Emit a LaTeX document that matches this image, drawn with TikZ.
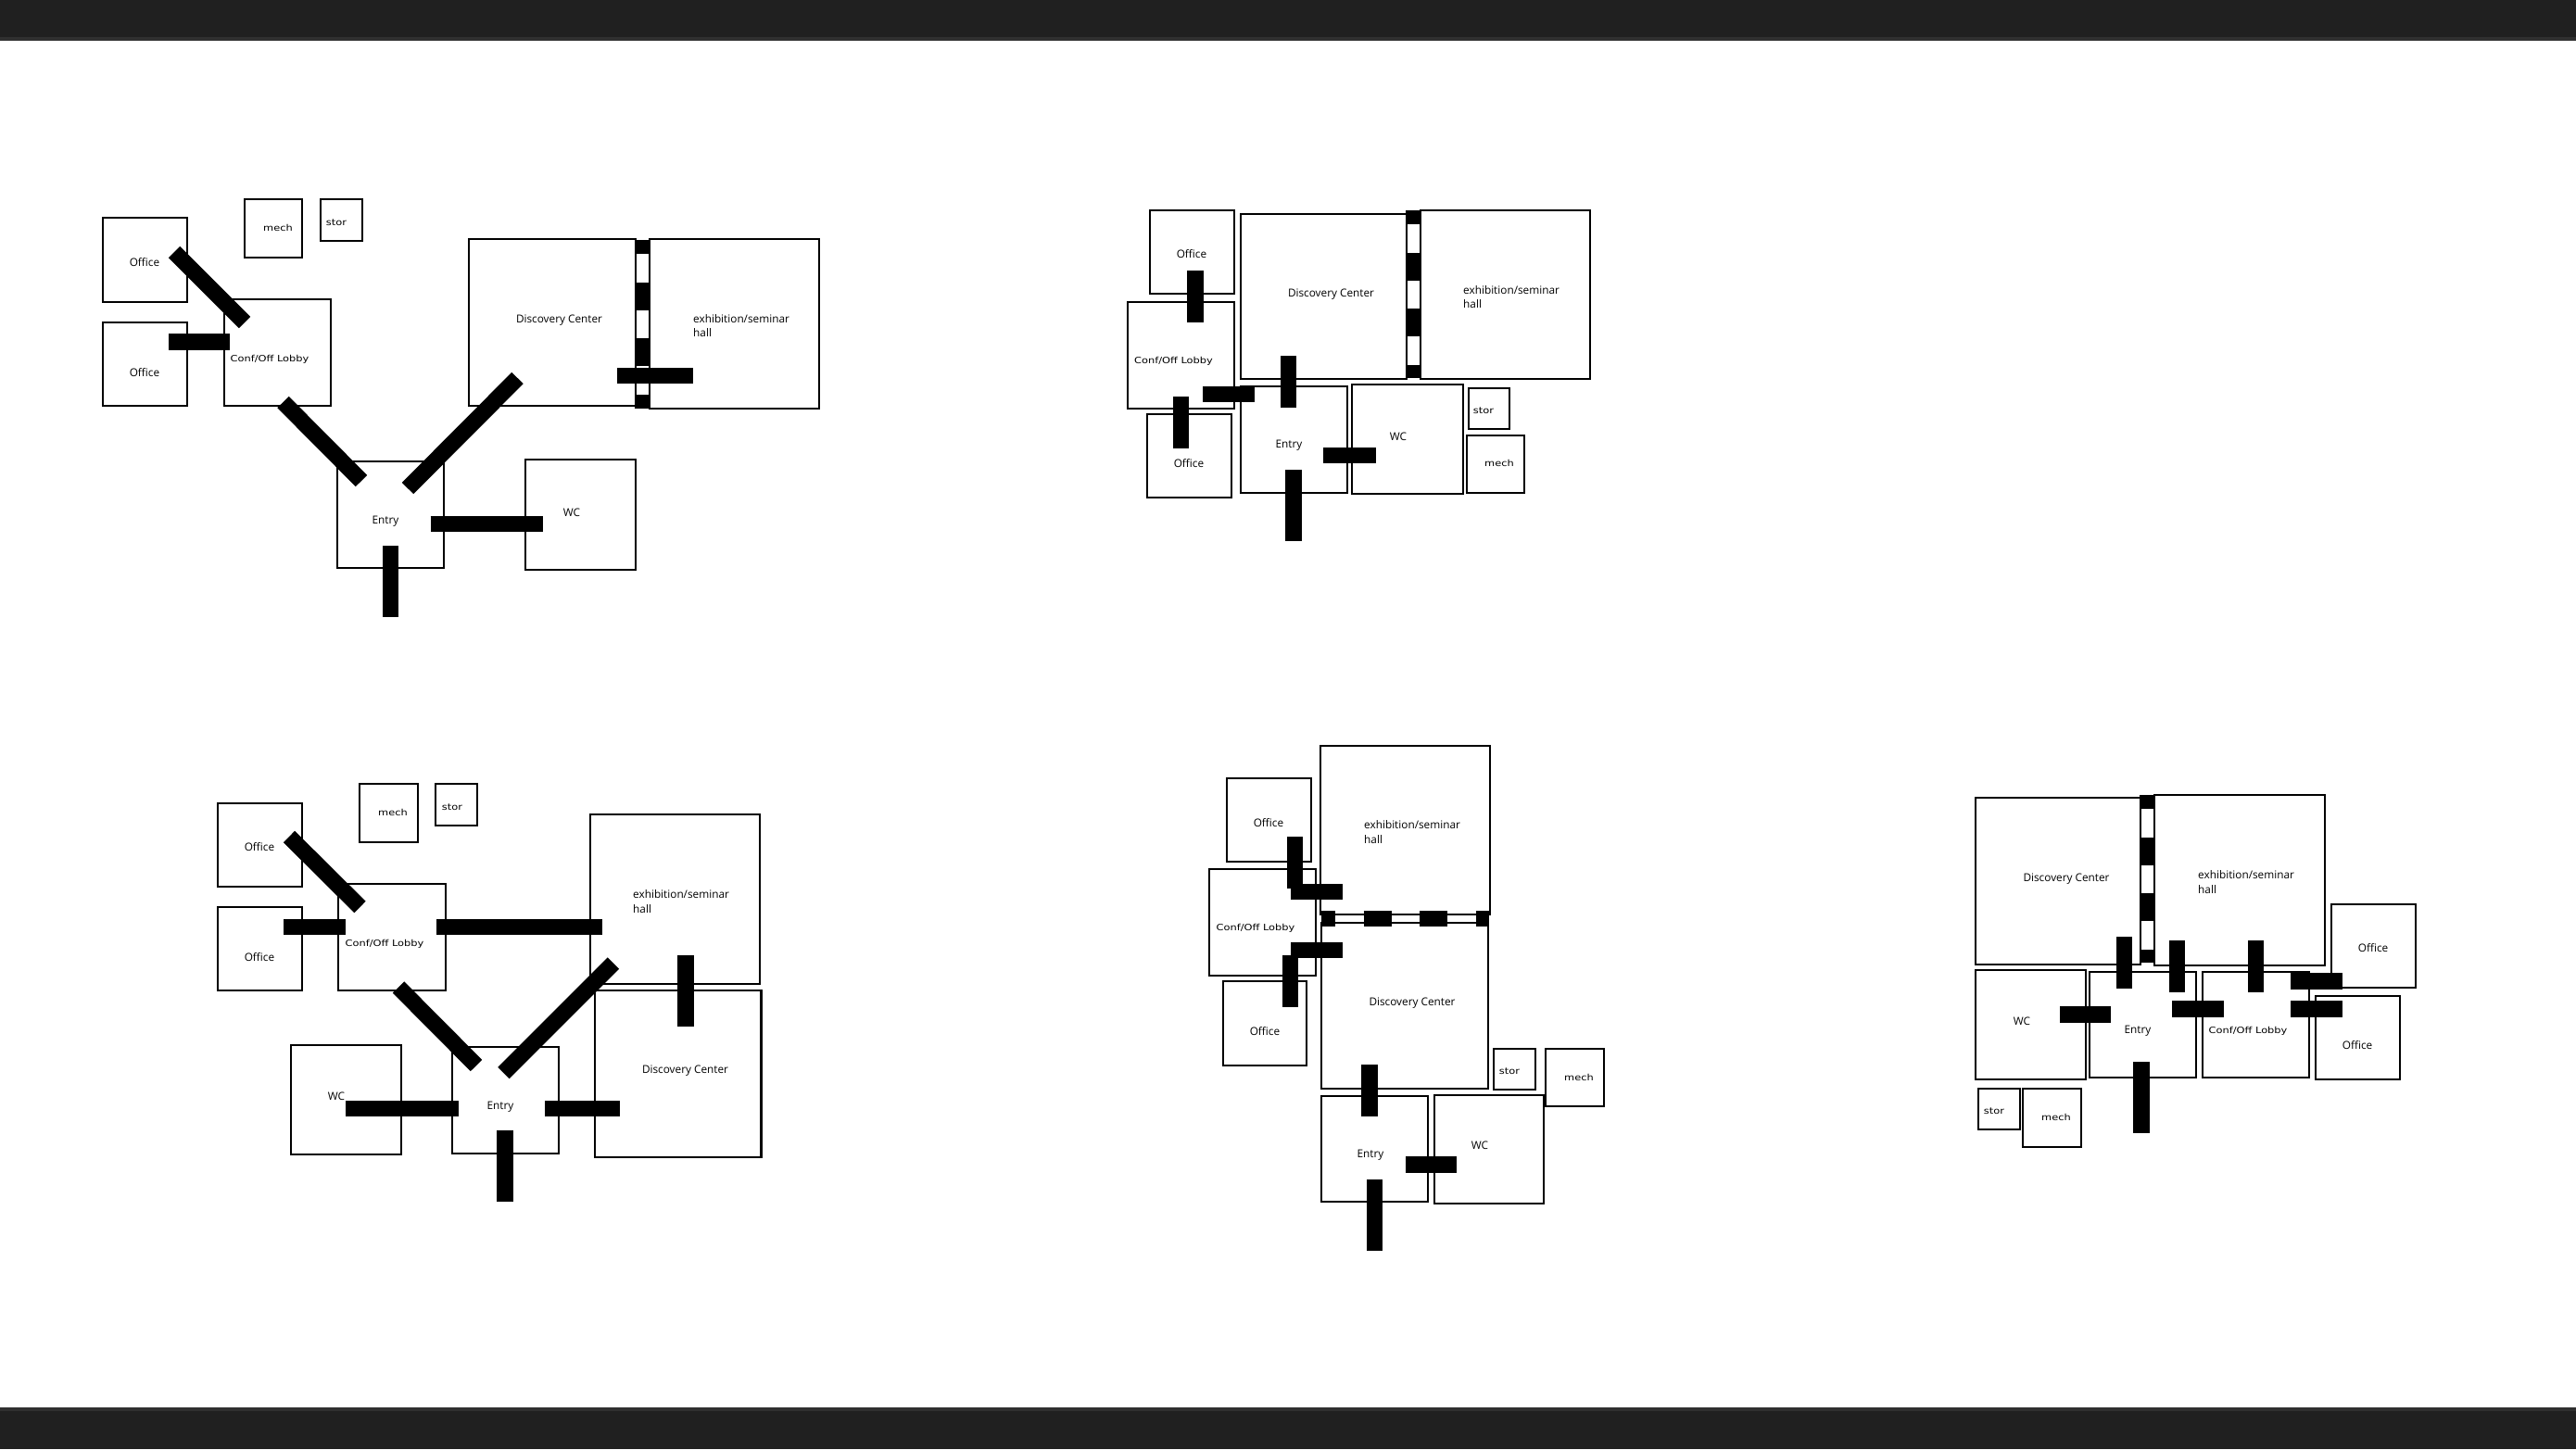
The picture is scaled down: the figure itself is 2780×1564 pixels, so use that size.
\documentclass[tikz,border=0pt]{standalone}
\usepackage{fontspec}
\usepackage{xcolor}
\setmainfont{Open Sans}
\newfontfamily\widefont[FakeStretch=1.2]{DejaVu Sans}
\definecolor{band}{HTML}{202020}
\definecolor{bandedge}{HTML}{303030}
\tikzset{
    room/.style={draw=black,line width=2.8pt,fill=white},
    door/.style={draw=black,line width=17.5pt},
    strip/.style={draw=black,line width=16.5pt,dash pattern=on 15pt off 30.5pt on 30pt off 30.5pt on 30pt off 30.5pt on 15pt},
    lbl/.style={font=\fontsize{11.8}{15}\selectfont,inner sep=0pt,yshift=-1.5pt},
    hallname/.style={font=\fontsize{11.8}{15.5}\selectfont,inner sep=0pt,anchor=west,align=left},
    small/.style={font=\widefont\fontsize{9.5}{10}\selectfont,inner sep=0pt,yshift=-0.5pt},
    tiny/.style={small}
}
\begin{document}
\begin{tikzpicture}[x=1pt,y=-1pt]
    \useasboundingbox (0,0) rectangle (2780,1564);
    \fill[white] (0,0) rectangle (2780,1564);
    \fill[band] (0,0) rectangle (2780,44);
    \fill[band] (0,1519) rectangle (2780,1564);
    \fill[bandedge] (0,40) rectangle (2780,44);
    \fill[bandedge] (0,1519) rectangle (2780,1523);

    % scheme 1, top left
    \draw[room] (111,235) rectangle (202,326);
    \draw[room] (111,348) rectangle (202,438);
    \draw[room] (264,215) rectangle (326,278);
    \draw[room] (346,215) rectangle (391,260);
    \draw[room] (242,323) rectangle (357,438);
    \draw[room] (506,258) rectangle (686,438);
    \draw[room] (701,258) rectangle (884,441);
    \draw[room] (364,498) rectangle (479,613);
    \draw[room] (567,496) rectangle (686,615);
    \draw[strip] (693.5,259) -- (693.5,441);
    \draw[door] (188,272) -- (264,348);
    \draw[door] (182,369) -- (248,369);
    \draw[door] (305.5,434) -- (390,519);
    \draw[door] (558.5,408) -- (440,527);
    \draw[door] (464.5,565.5) -- (586,565.5);
    \draw[door] (421.5,589) -- (421.5,666);
    \draw[door] (666,405.5) -- (748,405.5);
    \node[lbl] (office1a) at (156,282) {Office};
    \node[lbl] (office1b) at (156,401) {Office};
    \node[tiny] (mech1) at (300,245) {mech};
    \node[tiny] (stor1) at (363,240) {stor};
    \node[small] (conf1) at (291,387) {Conf/Off Lobby};
    \node[lbl] (disc1) at (603.5,344) {Discovery Center};
    \node[hallname] (hall1) at (748,351.5) {exhibition/seminar\\hall};
    \node[lbl] (wc1) at (617,552) {WC};
    \node[lbl] (entry1) at (416,561) {Entry};

    % scheme 2, top middle
    \draw[room] (1241,227) rectangle (1332,317);
    \draw[room] (1217,326) rectangle (1332,441);
    \draw[room] (1238,447) rectangle (1329,537);
    \draw[room] (1339,231) rectangle (1518,409);
    \draw[room] (1533,227) rectangle (1716,409);
    \draw[room] (1339,417) rectangle (1454,532);
    \draw[room] (1459,415) rectangle (1579,533);
    \draw[room] (1585,419) rectangle (1629,463);
    \draw[room] (1583,470) rectangle (1645,532);
    \draw[strip] (1525,227) -- (1525,408);
    \draw[door] (1290,292) -- (1290,348);
    \draw[door] (1274.5,428) -- (1274.5,484);
    \draw[door] (1298,425.5) -- (1354,425.5);
    \draw[door] (1390.5,384) -- (1390.5,440);
    \draw[door] (1428,491.5) -- (1485,491.5);
    \draw[door] (1396,507) -- (1396,584);
    \node[lbl] (office2a) at (1286,273) {Office};
    \node[small] (conf2) at (1266.5,389) {Conf/Off Lobby};
    \node[lbl] (office2b) at (1283,499) {Office};
    \node[lbl] (disc2) at (1436.5,316) {Discovery Center};
    \node[hallname] (hall2) at (1579,320.5) {exhibition/seminar\\hall};
    \node[lbl] (entry2) at (1391,479) {Entry};
    \node[lbl] (wc2) at (1509,470) {WC};
    \node[tiny] (stor2) at (1601,443) {stor};
    \node[tiny] (mech2) at (1618,499) {mech};

    % scheme 3, bottom left
    \draw[room] (235,867) rectangle (326,957);
    \draw[room] (235,979) rectangle (326,1069);
    \draw[room] (388,846) rectangle (451,909);
    \draw[room] (470,846) rectangle (515,891);
    \draw[room] (365,954) rectangle (481,1069);
    \draw[room] (637,879) rectangle (820,1062);
    \draw[room] (642,1069) rectangle (821.5,1249);
    \draw[room] (488,1130) rectangle (603,1245);
    \draw[room] (314,1128) rectangle (433,1246);
    \draw[door] (312,903) -- (388.5,979);
    \draw[door] (306,1000.5) -- (373,1000.5);
    \draw[door] (471,1000.5) -- (650,1000.5);
    \draw[door] (430,1065.5) -- (514,1150);
    \draw[door] (662,1039.5) -- (543.5,1158);
    \draw[door] (740,1031) -- (740,1108);
    \draw[door] (373,1196.5) -- (495,1196.5);
    \draw[door] (588,1196.5) -- (669,1196.5);
    \draw[door] (545,1220) -- (545,1297);
    \node[lbl] (office3a) at (280,913) {Office};
    \node[lbl] (office3b) at (280,1032) {Office};
    \node[tiny] (mech3) at (424,876) {mech};
    \node[tiny] (stor3) at (488,871) {stor};
    \node[small] (conf3) at (415,1018) {Conf/Off Lobby};
    \node[hallname] (hall3) at (683,973) {exhibition/seminar\\hall};
    \node[lbl] (disc3) at (739.5,1154) {Discovery Center};
    \node[lbl] (entry3) at (540,1193) {Entry};
    \node[lbl] (wc3) at (363,1182) {WC};

    % scheme 4, bottom middle
    \draw[room] (1324,840) rectangle (1415,930);
    \draw[room] (1305,938) rectangle (1420,1053);
    \draw[room] (1320,1059) rectangle (1410,1150);
    \draw[room] (1425,805) rectangle (1608,987);
    \draw[room] (1426,996) rectangle (1606,1175);
    \draw[room] (1612,1132) rectangle (1657,1176);
    \draw[room] (1668,1132) rectangle (1731,1194);
    \draw[room] (1426,1183) rectangle (1541,1297);
    \draw[room] (1548,1182) rectangle (1666,1299);
    \draw[strip] (1426,991.5) -- (1607,991.5);
    \draw[door] (1397.5,903) -- (1397.5,959);
    \draw[door] (1393,962.5) -- (1449,962.5);
    \draw[door] (1393,1025.5) -- (1449,1025.5);
    \draw[door] (1392.5,1031) -- (1392.5,1087);
    \draw[door] (1478,1149) -- (1478,1205);
    \draw[door] (1517,1257) -- (1572,1257);
    \draw[door] (1483.5,1273) -- (1483.5,1350);
    \node[lbl] (office4a) at (1369,887) {Office};
    \node[small] (conf4) at (1355,1001) {Conf/Off Lobby};
    \node[lbl] (office4b) at (1365,1112) {Office};
    \node[hallname] (hall4) at (1472,898) {exhibition/seminar\\hall};
    \node[lbl] (disc4) at (1524,1081) {Discovery Center};
    \node[lbl] (entry4) at (1479,1245) {Entry};
    \node[lbl] (wc4) at (1597,1235) {WC};
    \node[tiny] (stor4) at (1629,1156) {stor};
    \node[tiny] (mech4) at (1704,1162) {mech};

    % scheme 5, right
    \draw[room] (2132,861) rectangle (2310,1041);
    \draw[room] (2325,858) rectangle (2509,1042);
    \draw[room] (2132,1047) rectangle (2251,1165);
    \draw[room] (2255,1049) rectangle (2370,1163);
    \draw[room] (2377,1049) rectangle (2492,1163);
    \draw[room] (2516,976) rectangle (2607,1066);
    \draw[room] (2499,1075) rectangle (2590,1165);
    \draw[room] (2135,1175) rectangle (2180,1219);
    \draw[room] (2183,1175) rectangle (2246,1238);
    \draw[strip] (2317.5,858) -- (2317.5,1039);
    \draw[door] (2292.5,1011) -- (2292.5,1067);
    \draw[door] (2349.5,1015) -- (2349.5,1071);
    \draw[door] (2434.5,1015) -- (2434.5,1071);
    \draw[door] (2472,1059) -- (2528,1059);
    \draw[door] (2472,1089) -- (2528,1089);
    \draw[door] (2344,1089) -- (2400,1089);
    \draw[door] (2223,1095) -- (2278,1095);
    \draw[door] (2311,1146) -- (2311,1223);
    \node[lbl] (disc5) at (2230,947) {Discovery Center};
    \node[hallname] (hall5) at (2372,952) {exhibition/seminar\\hall};
    \node[lbl] (office5a) at (2561,1022) {Office};
    \node[lbl] (office5b) at (2544,1127) {Office};
    \node[small] (conf5) at (2426,1112) {Conf/Off Lobby};
    \node[lbl] (entry5) at (2307,1111) {Entry};
    \node[lbl] (wc5) at (2182,1101) {WC};
    \node[tiny] (stor5) at (2152,1199) {stor};
    \node[tiny] (mech5) at (2219,1205) {mech};
\end{tikzpicture}
\end{document}
